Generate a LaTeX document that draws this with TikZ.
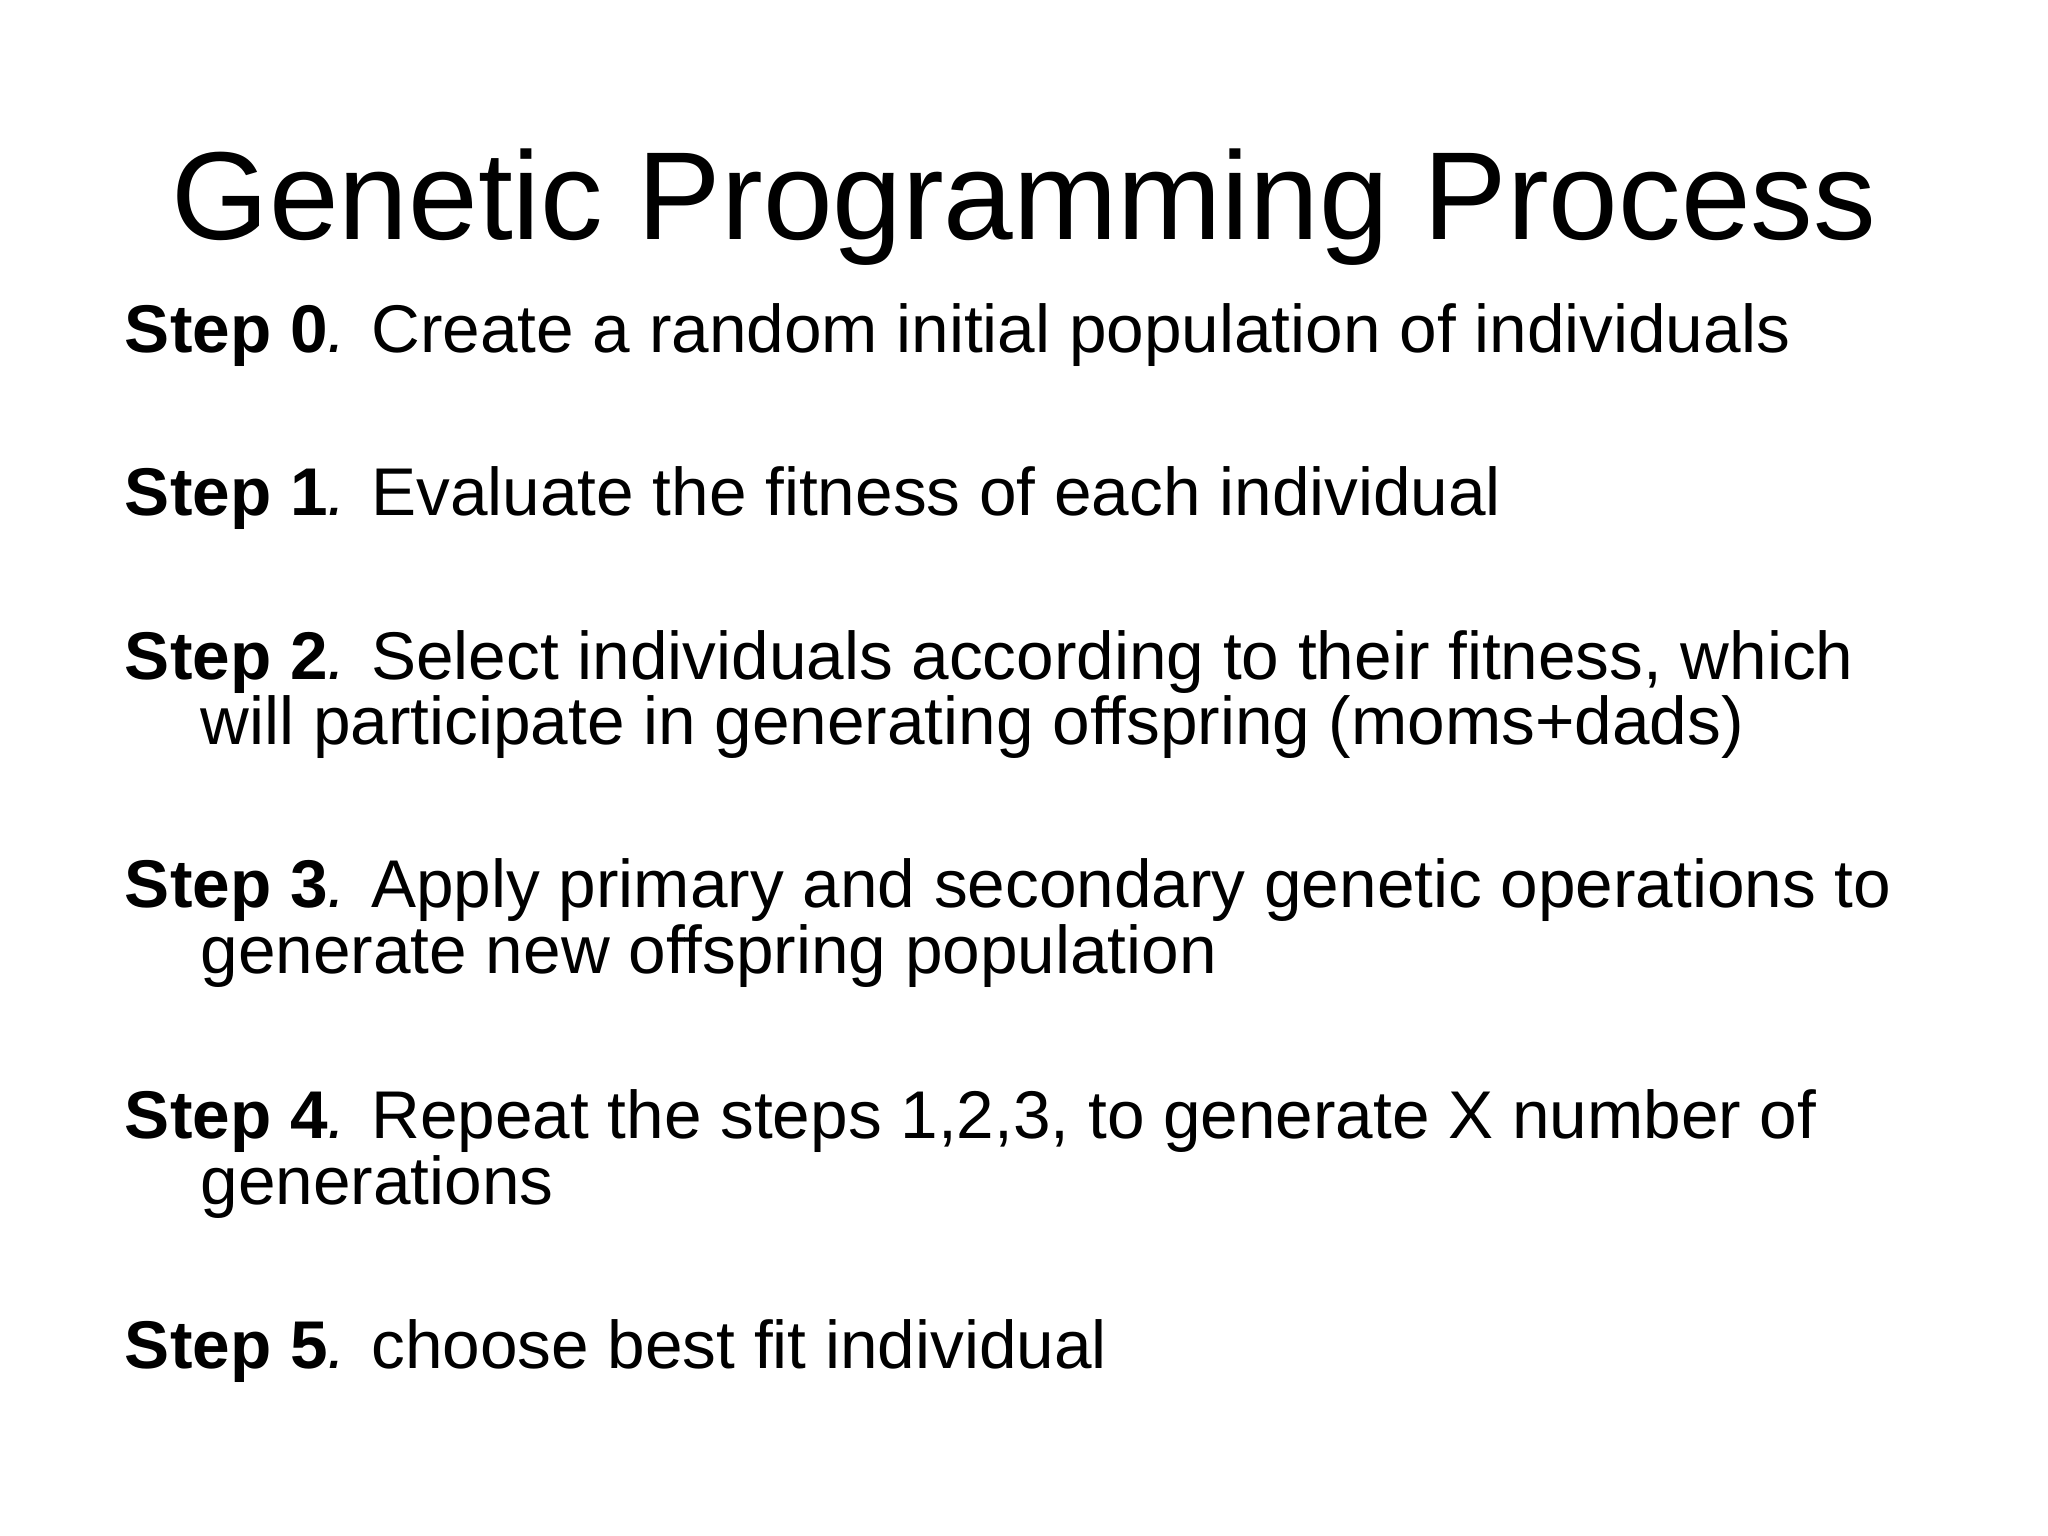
\documentclass[tikz,border=0pt]{standalone}
\usepackage{fontspec}
\setmainfont{Liberation Sans}
\begin{document}
\begin{tikzpicture}[x=0.01cm,y=-0.01cm,
  line/.style={anchor=base west,inner sep=0pt,font=\fontsize{14.7pt}{15pt}\selectfont},
  ttl/.style={anchor=base,inner sep=0pt,font=\fontsize{27.25pt}{30pt}\selectfont}]
\useasboundingbox (0,0) rectangle (1568,1176);
\node[ttl] (title) at (784,183) {Genetic Programming Process};
\node[line] (s0) at (95,270) {\textbf{Step 0}\textit{.} Create a random initial population of individuals};
\node[line] (s1) at (95,395) {\textbf{Step 1}\textit{.} Evaluate the fitness of each individual};
\node[line] (s2) at (95,520) {\textbf{Step 2}\textit{.} Select individuals according to their fitness, which};
\node[line] (s2b) at (153,570) {will participate in generating offspring (moms+dads)};
\node[line] (s3) at (95,695) {\textbf{Step 3}\textit{.} Apply primary and secondary genetic operations to};
\node[line] (s3b) at (153,745) {generate new offspring population};
\node[line] (s4) at (95,872) {\textbf{Step 4}\textit{.} Repeat the steps 1,2,3, to generate X number of};
\node[line] (s4b) at (153,922) {generations};
\node[line] (s5) at (95,1048) {\textbf{Step 5}\textit{.} choose best fit individual};
\end{tikzpicture}
\end{document}
